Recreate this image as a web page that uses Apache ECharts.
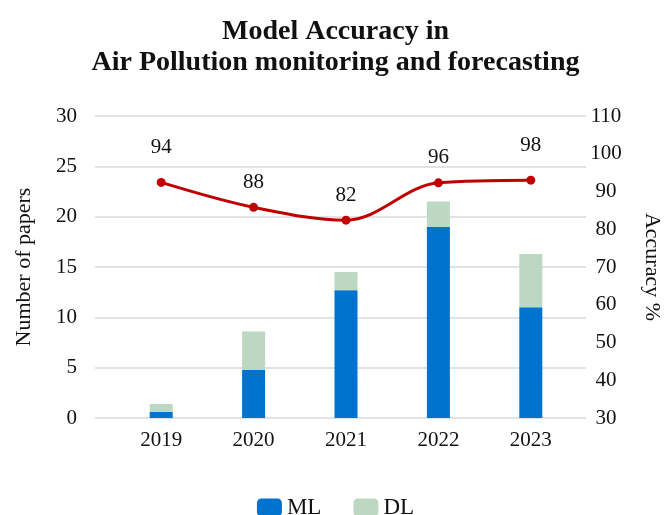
<!DOCTYPE html>
<html>
<head>
<meta charset="utf-8">
<script src="https://cdn.jsdelivr.net/npm/echarts@6/dist/echarts.min.js"></script>
<style>html,body{margin:0;padding:0;background:#fff}#c{width:671px;height:515px}</style>
</head>
<body>
<div id="c"></div>
<script>
const years = ['2019', '2020', '2021', '2022', '2023'];
const mlPapers = [0.6, 4.8, 12.7, 19.0, 11.0];
const dlPapers = [0.8, 3.8, 1.8, 2.5, 5.3];
const accuracy = [92.4, 85.8, 82.4, 92.3, 93.0];
const accuracyLabels = ['94', '88', '82', '96', '98'];
const leftTicks = { min: 0, max: 30, interval: 5 };
const rightTicks = { min: 30, max: 110, interval: 10 };

const FONT = 'Liberation Serif';
const labelLift = [10, 0, 0, 0, 10];

const chart = echarts.init(document.getElementById('c'));
const txt = { fontFamily: FONT, fontSize: 21, color: '#111' };
chart.setOption({
  animation: false,
  backgroundColor: '#fff',
  title: {
    text: 'Model Accuracy in\nAir Pollution monitoring and forecasting',
    left: 'center', top: 11,
    textStyle: { fontFamily: FONT, fontSize: 28, fontWeight: 'bold', color: '#111', lineHeight: 31 }
  },
  legend: {
    data: ['ML', 'DL'], bottom: -9, left: 'center',
    itemWidth: 25, itemHeight: 18, itemGap: 32,
    textStyle: { fontFamily: FONT, fontSize: 23, color: '#111' }
  },
  grid: [
    { left: 95, right: 84, top: 116, bottom: 97 },
    { left: 115, right: 94, top: 116, bottom: 97 }
  ],
  xAxis: [
    { type: 'category', gridIndex: 0, data: years, show: false },
    { type: 'category', gridIndex: 1, data: years,
      axisLine: { show: false }, axisTick: { show: false },
      axisLabel: Object.assign({ margin: 12 }, txt) }
  ],
  yAxis: [
    { type: 'value', gridIndex: 0, position: 'left', min: leftTicks.min, max: leftTicks.max, interval: leftTicks.interval,
      axisLine: { show: false }, axisTick: { show: false },
      axisLabel: Object.assign({ margin: 18 }, txt),
      splitLine: { lineStyle: { color: '#d9d9d9', width: 1.5 } },
      name: 'Number of papers', nameLocation: 'middle', nameGap: 60,
      nameTextStyle: { fontFamily: FONT, fontSize: 22, color: '#111' } },
    { type: 'value', gridIndex: 0, position: 'right', min: rightTicks.min, max: rightTicks.max, interval: rightTicks.interval,
      axisLine: { show: false }, axisTick: { show: false },
      axisLabel: Object.assign({ margin: 20, align: 'center' }, txt),
      splitLine: { show: false },
      name: 'Accuracy %', nameLocation: 'middle', nameGap: 55, nameRotate: -90,
      nameTextStyle: { fontFamily: FONT, fontSize: 22, color: '#111' } },
    { type: 'value', gridIndex: 1, min: leftTicks.min, max: leftTicks.max, interval: leftTicks.interval, show: false },
    { type: 'value', gridIndex: 1, min: rightTicks.min, max: rightTicks.max, interval: rightTicks.interval, show: false }
  ],
  series: [
    { name: 'ML', type: 'bar', stack: 'p', xAxisIndex: 1, yAxisIndex: 2, data: mlPapers,
      barWidth: 23, itemStyle: { color: '#0073cf' } },
    { name: 'DL', type: 'bar', stack: 'p', xAxisIndex: 1, yAxisIndex: 2, data: dlPapers,
      barWidth: 23, itemStyle: { color: '#bcd8c2' } },
    { name: 'Accuracy', type: 'line', xAxisIndex: 1, yAxisIndex: 3, smooth: 0.35,
      data: accuracy.map((v, i) => ({ value: v, label: { offset: [0, -labelLift[i]] } })),
      symbol: 'circle', symbolSize: 9,
      lineStyle: { color: '#c00000', width: 3 }, itemStyle: { color: '#c00000' },
      label: { show: true, position: 'top', distance: 10,
        formatter: p => accuracyLabels[p.dataIndex],
        fontFamily: FONT, fontSize: 21, color: '#111' } }
  ]
});
</script>
</body>
</html>
